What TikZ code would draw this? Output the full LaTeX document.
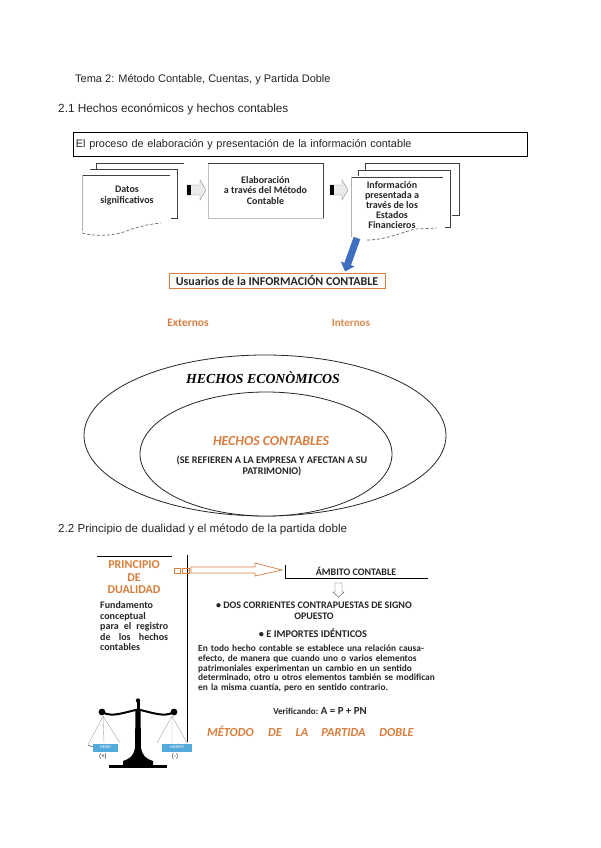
\documentclass[tikz,border=0pt]{standalone}
\usepackage{fontspec}
\setmainfont{Liberation Sans}
\newfontfamily\calf{Carlito}
\newfontfamily\timf{Liberation Serif}
\usetikzlibrary{arrows.meta,calc}
\definecolor{ora}{RGB}{217,125,60}
\definecolor{blu}{RGB}{62,110,190}
\definecolor{sky}{RGB}{85,170,220}
\newcommand{\fsz}[2]{\fontsize{#1}{#2}\selectfont}
\tikzset{
 body/.style={anchor=west,inner sep=0,text=black!85},
 cal/.style={font=\calf\bfseries\fsz{10}{10.5},align=center,inner sep=0,text=black!85},
 calo/.style={font=\calf\bfseries\fsz{11}{13},align=center,inner sep=0,text=ora},
 mtd/.style={calo,anchor=base,font=\calf\bfseries\itshape\fsz{12.3}{13}},
 docline/.style={draw=black!75,line width=.8pt},
 docedge/.style={draw=black!30,line width=.7pt},
 wavy/.style={draw=black!60,line width=.7pt,densely dashed},
 smallarrow/.style={draw=black!45,fill=black!8,line width=.4pt},
 hollow/.style={draw=ora,fill=white,line width=.7pt},
}
\begin{document}
\begin{tikzpicture}[x=1pt,y=-1pt]
\useasboundingbox (0,0) rectangle (600,848);
\fill[white] (0,0) rectangle (600,848);
\node[body,font=\fsz{11}{13}] (t1) at (75,79.5) {Tema 2: Método Contable, Cuentas, y Partida Doble};
\node[body,font=\fsz{11.8}{14}] (t2) at (58,109) {2.1 Hechos económicos y hechos contables};
\node[body,font=\fsz{10.9}{13},draw=black,line width=.9pt,minimum width=454pt,minimum height=24pt,text width=449pt,inner xsep=2.5pt] (proc) at (73,144.5) {El proceso de elaboración y presentación de la información contable};
% left document
\draw[docline] (96,169) -- (96,163.5) -- (184,163.5);
\draw[docline] (90,169.5) -- (177,169.5) -- (177,218) -- (171,218);
\draw[docline] (82,175) -- (170,175);
\draw[docedge] (82,175) -- (82,231);
\draw[wavy] (82,233) .. controls (98,237) and (115,236) .. (132,229) .. controls (142,226) and (150,224) .. (161,223);
\node[cal] (datos) at (127,195.5) {Datos\\significativos};
% arrow 1
\draw[smallarrow] (187,185) -- (200,185) -- (200,180) -- (206,190) -- (200,200) -- (200,195) -- (187,195) -- cycle;
\fill[black] (187,185) rectangle (190.5,195);
% middle
\node[cal,draw=black!25,minimum width=115pt,minimum height=55pt,line width=.7pt] (elab) at (265.5,190.5) {Elaboración\\a través del Método\\Contable};
\draw[docline] (208,163.5) -- (323,163.5) -- (323,218);
% arrow 2
\draw[smallarrow] (330,185) -- (342,185) -- (342,180) -- (348,190) -- (342,200) -- (342,195) -- (330,195) -- cycle;
\fill[black] (330,185) rectangle (333.5,195);
% right doc
\draw[docline] (365,170) -- (365,163.5) -- (459,163.5) -- (459,215) -- (452,215);
\draw[docline] (358,176) -- (358,170) -- (450,170) -- (450,227) -- (445,227);
\draw[docline] (351,177) -- (443,177);
\draw[docedge] (351,177) -- (351,237);
\draw[wavy] (367,240) .. controls (385,240) and (400,233) .. (415,229) -- (437,228);
\node[cal,font=\calf\bfseries\fsz{10}{10.2}] (info) at (392,205) {Información\\presentada a\\través de los\\Estados\\Financieros};
\coordinate (infoS) at (357,238);
% usuarios
\node[cal,draw=ora,line width=.6pt,minimum width=216pt,minimum height=15pt,fill=white,font=\calf\bfseries\fsz{12}{12}] (us) at (277,280.5) {Usuarios de la INFORMACIÓN CONTABLE};
\coordinate (usT) at (345,271.5);
\draw[-{Triangle[length=8pt,width=14pt]},draw=blu,line width=7pt] (infoS) -- (usT);
\node[calo,font=\calf\bfseries\fsz{11.4}{12}] (ext) at (188,323) {Externos};
\node[calo,font=\calf\bfseries\fsz{11}{12},opacity=.9] (int) at (351,323) {Internos};
% ellipses
\draw[black!85,line width=.8pt] (265,435.5) ellipse [x radius=181,y radius=80.5];
\draw[black!85,line width=.8pt,fill=white] (266,454) ellipse [x radius=126,y radius=62];
\node[font=\timf\bfseries\itshape\fsz{13.8}{14},inner sep=0] (he) at (263,378) {HECHOS ECONÒMICOS};
\node[calo,font=\calf\bfseries\itshape\fsz{13.8}{14}] (hc) at (271,441.5) {HECHOS CONTABLES};
\node[cal,font=\calf\bfseries\fsz{10.2}{11}] (se) at (272,465.5) {(SE REFIEREN A LA EMPRESA Y AFECTAN A SU\\PATRIMONIO)};
\node[body,font=\fsz{11.6}{14}] (t3) at (58,529) {2.2 Principio de dualidad y el método de la partida doble};
% left panel
\draw[black,line width=.7pt] (97,556) -- (172,556);
\draw[black,line width=.8pt] (187,555) -- (187,742);
\node[calo,font=\calf\bfseries\fsz{12}{12.5}] (pd) at (134,577.5) {PRINCIPIO\\DE\\DUALIDAD};
\node[cal,anchor=north west,text width=68pt,align=left] (fc) at (100,601.5) {Fundamento\\conceptual\\para\hfill el\hfill registro\\de\hfill los\hfill hechos\\contables};
% hollow arrow
\draw[ora,line width=.6pt] (174,568) rectangle (180,573) (182,568) rectangle (189,573);
\draw[hollow] (191,567) -- (255,567) -- (255,563) -- (282,570) -- (255,576) -- (255,573) -- (191,573) -- cycle;
% ambito
\draw[black,line width=.8pt] (285,565) -- (285,578) -- (428,578);
\node[cal,font=\calf\bfseries\fsz{10}{12}] (am) at (356,571.5) {ÁMBITO CONTABLE};
\draw[draw=black!70,fill=white,line width=.4pt] (335,583) -- (342,583) -- (342,592) -- (344,592) -- (338.5,597) -- (333,592) -- (335,592) -- cycle;
\node[cal] (dc) at (314,611) {• DOS CORRIENTES CONTRAPUESTAS DE SIGNO\\OPUESTO};
\node[cal,font=\calf\bfseries\fsz{10.3}{12}] (ei) at (313,633) {• E IMPORTES IDÉNTICOS};
\node[cal,anchor=west,align=left,font=\calf\bfseries\fsz{9.35}{9.6},text width=245pt] (par) at (198,668.5) {En todo hecho contable se establece una relación causa-\\efecto, de manera que cuando uno o varios elementos\\patrimoniales experimentan un cambio en un sentido\\determinado, otro u otros elementos también se modifican\\en la misma cuantía, pero en sentido contrario.};
\node[cal,font=\calf\bfseries\fsz{9}{12}] (ver) at (320,711) {Verificando: {\fsz{10.8}{12}A = P + PN}};
\node[mtd] (m1) at (230.5,736) {MÉTODO};
\node[mtd] (m2) at (275,736) {DE};
\node[mtd] (m3) at (302,736) {LA};
\node[mtd] (m4) at (343.5,736) {PARTIDA};
\node[mtd] (m5) at (396.5,736) {DOBLE};
% scale
\fill[black] (138,700.5) circle (2.2);
\fill[black] (136.5,701) rectangle (139.5,712);
\fill[black] (102,712) circle (3.4) (174,712) circle (3.4);
\draw[black,line width=2pt] (102,712) .. controls (112,718) and (125,712) .. (138,709.5) .. controls (151,712) and (164,718) .. (174,712);
\fill[black] (135.5,709) -- (140.5,709) -- (141,748) .. controls (142,755) and (146,759) .. (153,761) -- (153,765) -- (123,765) -- (123,761) .. controls (130,759) and (134,755) .. (135,748) -- cycle;
\fill[black] (109,764.5) rectangle (167,767.5);
\draw[black!35,line width=.4pt] (88,745) -- (103,716) -- (120,743) (103,716) -- (104,743);
\draw[black!35,line width=.4pt] (157,743) -- (172,716) -- (187,743) (172,716) -- (172,743);
\draw[black!70,line width=.5pt] (88,745) -- (93,747);
\node[fill=sky,minimum width=25pt,minimum height=8pt,inner sep=0,text=white,font=\fsz{4}{5}] (debe) at (105.5,747.5) {DEBE};
\node[fill=sky,minimum width=30pt,minimum height=8pt,inner sep=0,text=white,font=\fsz{4}{5}] (haber) at (177,747.5) {HABER};
\node[cal,font=\calf\fsz{7}{8}] (pl) at (103,756.5) {(+)};
\node[cal,font=\calf\fsz{7}{8}] (mn) at (175,756.5) {(-)};
\end{tikzpicture}
\end{document}
